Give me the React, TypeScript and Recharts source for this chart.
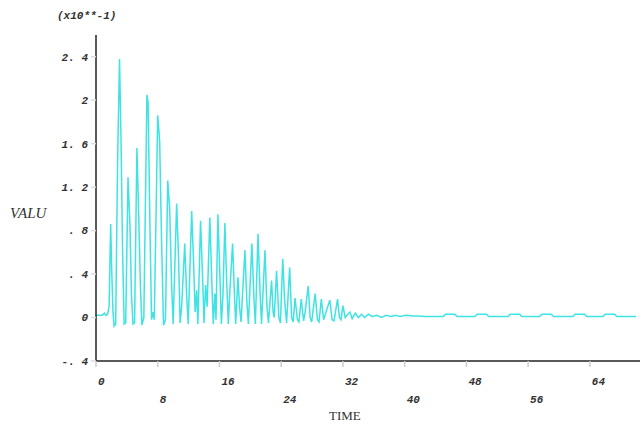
import React from 'react';
import { LineChart, Line, XAxis, YAxis } from 'recharts';

// time samples and signal values (x10**-1)
const times = [
  0, 0.8, 1.1, 1.3, 1.5, 1.7, 1.9, 2.05, 2.2, 2.35, 2.55, 2.8, 3.05, 3.25, 3.45, 3.65, 3.85,
  4.15, 4.4, 4.6, 4.8, 5.0, 5.3, 5.55, 5.75, 5.95, 6.2, 6.6, 6.75, 7.0, 7.2, 7.4, 7.55,
  8.0, 8.25, 8.5, 8.75, 9.0, 9.3, 9.55, 9.8, 10.0, 10.45, 10.7, 10.9, 11.1, 11.5, 11.75, 11.95,
  12.4, 12.65, 12.85, 13.05, 13.2, 13.55, 13.8, 14.0, 14.2, 14.4, 14.75, 15.0, 15.2, 15.4, 15.55,
  15.8, 16.05, 16.25, 16.45, 16.7, 16.95, 17.15, 17.35, 17.7, 17.95, 18.1, 18.4, 18.6, 18.8,
  19.3, 19.55, 19.75, 20.2, 20.45, 20.65, 21.0, 21.25, 21.45, 21.9, 22.15, 22.35, 22.75, 22.95,
  23.1, 23.4, 23.7, 23.9, 24.2, 24.45, 24.7, 25.1, 25.35, 25.55, 25.8, 26.1, 26.3, 26.6, 26.9,
  27.1, 27.5, 27.75, 27.95, 28.4, 28.7, 28.9, 29.2, 29.5, 29.8, 30.3, 30.6, 30.85, 31.3, 31.55,
  31.75, 32.0, 32.3, 32.5, 32.9, 33.2, 33.6, 34.0, 34.4, 34.8, 35.3, 35.8, 36.4, 37.0, 37.6,
  38.2, 38.8, 39.4, 40.2, 41.0, 41.8, 42.6, 43.2,
  45.0, 45.3, 46.5, 46.8, 49.1, 49.4, 50.6, 50.9, 53.4, 53.7, 54.9, 55.2, 57.5, 57.8, 59.0, 59.3,
  61.8, 62.1, 63.3, 63.6, 65.7, 66.0, 67.2, 67.5, 70.0,
];

const values = [
  0.02, 0.02, 0.04, 0.02, 0.03, 0.1, 0.86, 0.4, 0.05, -0.08, -0.06, 1.45, 2.38, 1.6, 0.6, -0.06, -0.05,
  1.29, 0.85, 0.2, -0.06, -0.05, 1.56, 0.9, 0.3, -0.07, 0.0, 2.05, 1.98, 0.8, -0.02, 0.05, -0.02,
  1.86, 1.62, 0.7, -0.07, -0.02, 1.26, 1.0, 0.3, -0.06, 1.05, 0.55, -0.05, 0.1, 0.68, 0.2, -0.06,
  0.98, 0.5, 0.05, 0.25, -0.06, 0.89, 0.4, -0.05, 0.3, 0.1, 0.92, 0.35, -0.06, 0.22, -0.02,
  0.95, 0.4, -0.06, 0.2, 0.87, 0.3, -0.06, 0.25, 0.68, 0.2, -0.06, 0.37, 0.1, -0.04,
  0.62, 0.15, -0.06, 0.68, 0.2, -0.06, 0.77, 0.25, -0.06, 0.62, 0.1, -0.05, 0.34, 0.05,
  0.0, 0.43, 0.0, -0.05, 0.54, 0.15, -0.05, 0.46, 0.0, -0.04, 0.18, -0.02, -0.04, 0.17, -0.03,
  0.05, 0.29, 0.0, -0.04, 0.22, -0.02, -0.04, 0.17, -0.02, 0.05, 0.16, -0.02, -0.03, 0.17, 0.0,
  -0.02, 0.11, 0.0, 0.02, 0.05, -0.01, 0.04, 0.0, 0.03, 0.0, 0.03, 0.01, 0.02, 0.0, 0.02,
  0.01, 0.02, 0.01, 0.02, 0.015, 0.015, 0.01, 0.01,
  0.01, 0.03, 0.03, 0.01, 0.01, 0.03, 0.03, 0.01, 0.01, 0.03, 0.03, 0.01, 0.01, 0.03, 0.03, 0.01,
  0.01, 0.03, 0.03, 0.01, 0.01, 0.03, 0.03, 0.01, 0.01,
];

const xTicks = [0, 8, 16, 24, 32, 40, 48, 56, 64];
const yTicks = [-0.4, 0, 0.4, 0.8, 1.2, 1.6, 2, 2.4];
const yTickText = ['-. 4', '0', '. 4', '. 8', '1. 2', '1. 6', '2', '2. 4'];

const data = times.map((t, i) => ({ t, v: values[i] }));

const font = '"Liberation Mono", monospace';

const YTick = ({ x, y, payload }: any) => {
  const idx = yTicks.findIndex((v) => Math.abs(v - payload.value) < 1e-6);
  return (
    <text x={x} y={y} dy="0.35em" textAnchor="end" fontFamily={font} fontStyle="italic"
      fontWeight="bold" fontSize={11} fill="#333">
      {idx >= 0 ? yTickText[idx] : ''}
    </text>
  );
};

const XTick = ({ x, y, payload, index }: any) => (
  <text x={x + 2} y={y + (index % 2 === 0 ? 18 : 36)} textAnchor="start" fontFamily={font}
    fontStyle="italic" fontWeight="bold" fontSize={11} fill="#333">
    {payload.value}
  </text>
);

const labelStyle: React.CSSProperties = {
  position: 'absolute',
  fontFamily: '"Liberation Serif", serif',
  fontStyle: 'italic',
  color: '#333',
  whiteSpace: 'nowrap',
  lineHeight: 1,
};

export default function App() {
  return (
    <div style={{ position: 'absolute', left: 0, top: 0, width: 644, height: 424, background: '#fff' }}>
      <LineChart width={644} height={424} data={data} margin={{ top: 35, right: 4, left: 0, bottom: 0 }}>
        <XAxis type="number" dataKey="t" domain={[0, 70.5]} ticks={xTicks} interval={0}
          allowDataOverflow height={63} stroke="#222" strokeWidth={1.5}
          tickLine={{ stroke: '#ccc' }} tickSize={6} tickMargin={0} tick={<XTick />} />
        <YAxis type="number" domain={[-0.4, 2.6]} ticks={yTicks} interval={0} allowDataOverflow
          width={96} stroke="#222" strokeWidth={1.5} tickLine={{ stroke: '#ddd' }}
          tickSize={5} tickMargin={3} tick={<YTick />} />
        <Line type="linear" dataKey="v" stroke="#3fe3e3" strokeWidth={1.5} dot={false}
          isAnimationActive={false} />
      </LineChart>
      <div style={{ ...labelStyle, left: 57, top: 11, fontFamily: font, fontWeight: 'bold', fontSize: 11 }}>
        (x10**-1)
      </div>
      <div style={{ ...labelStyle, left: 10, top: 206, fontSize: 15 }}>VALU</div>
      <div style={{ ...labelStyle, left: 329, top: 409, fontSize: 13, fontStyle: 'normal' }}>TIME</div>
    </div>
  );
}
